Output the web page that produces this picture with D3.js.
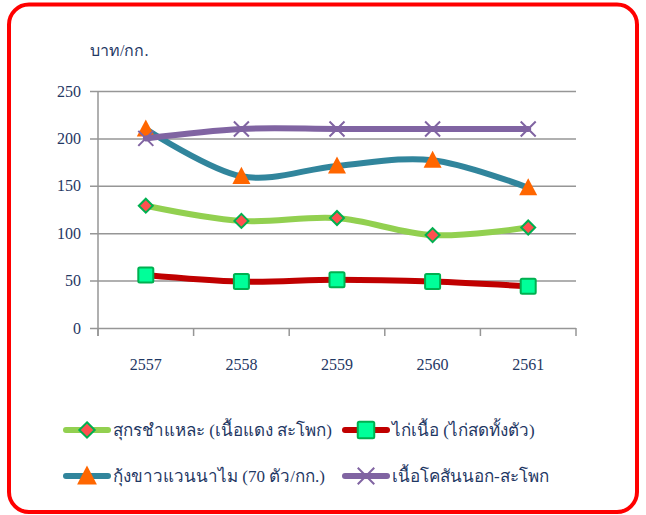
<!DOCTYPE html>
<html>
<head>
<meta charset="utf-8">
<script src="https://cdnjs.cloudflare.com/ajax/libs/d3/7.8.5/d3.min.js"></script>
<style>
  body { margin: 0; background: #fff; }
</style>
</head>
<body>
<div class="chart"></div>
<script>
var years = ["2557", "2558", "2559", "2560", "2561"];
var yTicks = [0, 50, 100, 150, 200, 250];
var seriesNames = ["สุกรชำแหละ  (เนื้อแดง สะโพก)", "ไก่เนื้อ (ไก่สดทั้งตัว)", "กุ้งขาวแวนนาไม (70 ตัว/กก.)", "เนื้อโคสันนอก-สะโพก"];
var porkValues = [129, 113, 116, 98, 106];
var chickenValues = [56, 49, 51, 49, 44];
var shrimpValues = [210, 160, 171, 177, 148];
var beefValues = [200, 210, 210, 210, 210];
var unitLabel = "บาท/กก.";

var serif = "'Liberation Serif', 'Times New Roman', 'DejaVu Serif', serif";
var textColor = "#1f3864";

var series = [
  { name: seriesNames[0], values: porkValues, line: "#92d050", marker: "diamond", fill: "#ff5050", stroke: "#00b050" },
  { name: seriesNames[1], values: chickenValues, line: "#c00000", marker: "square", fill: "#00ff99", stroke: "#00b050" },
  { name: seriesNames[2], values: shrimpValues, line: "#31859c", marker: "triangle", fill: "#ff6600", stroke: "none" },
  { name: seriesNames[3], values: beefValues, line: "#8064a2", marker: "x", fill: "none", stroke: "#8064a2" }
];

var svgWidth = 646;
var svgHeight = 515;
var margin = { top: 91, left: 98 };
var width = 478;
var height = 237;

var svg = d3.select(".chart")
  .append("svg")
  .attr("width", svgWidth)
  .attr("height", svgHeight);

// red rounded frame
svg.append("rect")
  .attr("x", 9).attr("y", 4.5)
  .attr("width", 628).attr("height", 507.5)
  .attr("rx", 20).attr("ry", 20)
  .attr("fill", "none")
  .attr("stroke", "#ff0000")
  .attr("stroke-width", 4);

var chartGroup = svg.append("g")
  .attr("transform", `translate(${margin.left}, ${margin.top})`);

var xBand = d3.scaleBand().domain(years).range([0, width]);
var yScale = d3.scaleLinear().domain([0, 250]).range([height, 0]);
var xPos = d => xBand(d) + xBand.bandwidth() / 2;

// gridlines + y axis
var leftAxis = d3.axisLeft(yScale).tickValues(yTicks).tickSize(-width).tickPadding(17);
var yAxisG = chartGroup.append("g").call(leftAxis);
yAxisG.select(".domain").remove();
yAxisG.selectAll(".tick line").attr("stroke", "#969696").attr("stroke-width", 1.5).attr("x1", -8);
yAxisG.selectAll(".tick text")
  .attr("font-size", 16).attr("font-family", serif).attr("fill", textColor);

chartGroup.append("line")
  .attr("x1", 0).attr("x2", 0).attr("y1", 0).attr("y2", height + 8)
  .attr("stroke", "#969696").attr("stroke-width", 1.5);

// x axis
var xAxisG = chartGroup.append("g")
  .attr("transform", `translate(0, ${height})`)
  .call(d3.axisBottom(xBand).tickSize(0).tickPadding(31));
xAxisG.select(".domain").remove();
xAxisG.selectAll(".tick text")
  .attr("font-size", 16).attr("font-family", serif).attr("fill", textColor);
var boundaries = years.map(d => xBand(d)).concat([width]);
chartGroup.selectAll(".xtick")
  .data(boundaries)
  .enter().append("line")
  .attr("x1", d => d).attr("x2", d => d)
  .attr("y1", height).attr("y2", height + 8)
  .attr("stroke", "#969696").attr("stroke-width", 1.5);

// marker drawing
function drawMarker(g, s, x, y, big) {
  var k = big ? 1.1 : 1;
  if (s.marker === "diamond") {
    var r = 7 * k;
    g.append("path")
      .attr("d", `M${x},${y - r}L${x + r},${y}L${x},${y + r}L${x - r},${y}Z`)
      .attr("fill", s.fill).attr("stroke", s.stroke).attr("stroke-width", 2);
  } else if (s.marker === "square") {
    var h = 7.5 * k;
    g.append("rect")
      .attr("x", x - h).attr("y", y - h).attr("width", 2 * h).attr("height", 2 * h)
      .attr("rx", 1.5)
      .attr("fill", s.fill).attr("stroke", s.stroke).attr("stroke-width", 2);
  } else if (s.marker === "triangle") {
    var t = 9 * k;
    g.append("path")
      .attr("d", `M${x},${y - t * 1.05}L${x + t},${y + t * 0.85}L${x - t},${y + t * 0.85}Z`)
      .attr("fill", s.fill);
  } else {
    var c = 7.5 * k;
    g.append("path")
      .attr("d", `M${x - c},${y - c}L${x + c},${y + c}M${x - c},${y + c}L${x + c},${y - c}`)
      .attr("stroke", s.stroke).attr("stroke-width", 2);
  }
}

var line = d3.line()
  .x((d, i) => xPos(years[i]))
  .y(d => yScale(d))
  .curve(d3.curveCardinal.tension(0));

series.forEach(function(s) {
  var g = chartGroup.append("g");
  g.append("path")
    .attr("d", line(s.values))
    .attr("fill", "none")
    .attr("stroke", s.line)
    .attr("stroke-width", 6)
    .attr("stroke-linecap", "round");
  s.values.forEach(function(v, i) {
    drawMarker(g, s, xPos(years[i]), yScale(v), false);
  });
});

// unit label
svg.append("text")
  .attr("x", 90).attr("y", 56)
  .attr("font-size", 16).attr("font-family", serif).attr("fill", textColor)
  .text(unitLabel);

// legend
var legendPos = [[63, 430], [342, 430], [63, 476], [342, 476]];
series.forEach(function(s, i) {
  var p = legendPos[i];
  var lg = svg.append("g");
  lg.append("line")
    .attr("x1", p[0] + 3).attr("x2", p[0] + 45)
    .attr("y1", p[1]).attr("y2", p[1])
    .attr("stroke", s.line).attr("stroke-width", 6).attr("stroke-linecap", "round");
  drawMarker(lg, s, p[0] + 24, p[1], true);
  lg.append("text")
    .attr("x", p[0] + 50).attr("y", p[1] + 6)
    .attr("font-size", 17).attr("font-family", serif).attr("fill", textColor)
    .text(s.name);
});
</script>
</body>
</html>
